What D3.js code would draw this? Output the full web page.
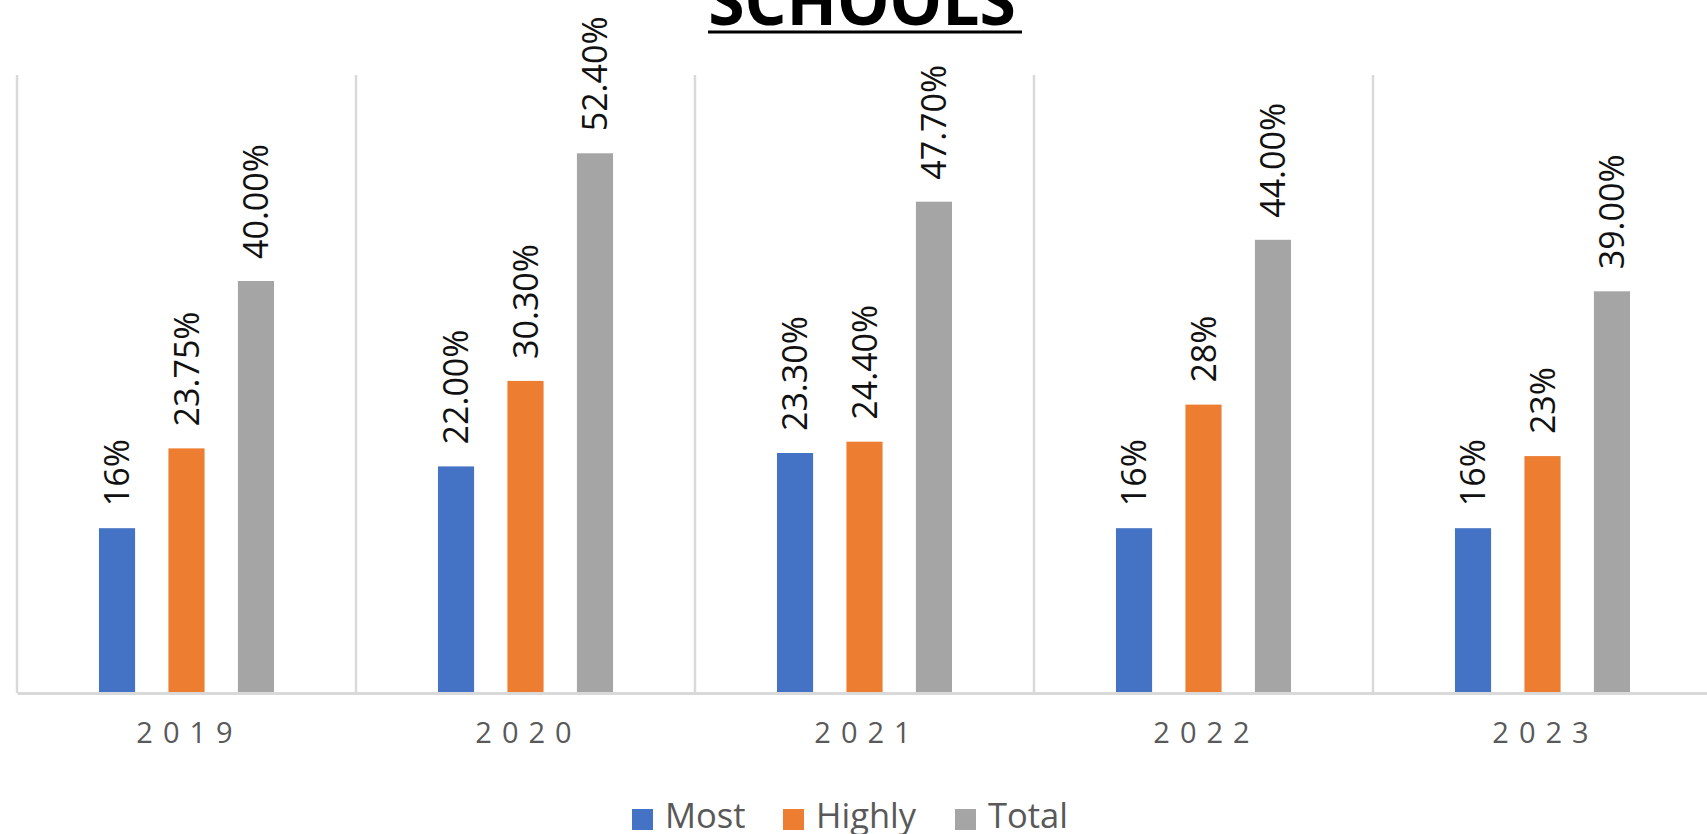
<!DOCTYPE html>
<html>
<head>
<meta charset="utf-8">
<script src="https://cdn.jsdelivr.net/npm/d3@7"></script>
<style>
  html, body { margin: 0; padding: 0; background: #fff; overflow: hidden; }
  svg { display: block; }
</style>
</head>
<body>
<svg id="chart" width="1707" height="834"></svg>
<script>
// ---- data ----
const years = ["2019", "2020", "2021", "2022", "2023"];
const seriesNames = ["Most", "Highly", "Total"];
const most   = [0.16, 0.22, 0.233, 0.16, 0.16];
const highly = [0.2375, 0.303, 0.244, 0.28, 0.23];
const total  = [0.40, 0.524, 0.477, 0.44, 0.39];
const mostLabels   = ["16%", "22.00%", "23.30%", "16%", "16%"];
const highlyLabels = ["23.75%", "30.30%", "24.40%", "28%", "23%"];
const totalLabels  = ["40.00%", "52.40%", "47.70%", "44.00%", "39.00%"];
const colors = ["#4472C4", "#ED7D31", "#A5A5A5"];
const titleText = "SCHOOLS";

const seriesValues = [most, highly, total];
const seriesLabels = [mostLabels, highlyLabels, totalLabels];

const svg = d3.select("#chart");
const W = 1707, H = 834;
const plot = { left: 17, top: 75, bottom: 693, catW: 339 };
const plotRight = plot.left + plot.catW * years.length;

const x0 = d3.scaleBand().domain(years).range([plot.left, plotRight]).padding(0);
const x1 = d3.scaleBand().domain(seriesNames).range([0, x0.bandwidth()])
  .paddingInner(0.48).paddingOuter(1.18);
const y = d3.scaleLinear().domain([0, 0.6]).range([plot.bottom, plot.top]);
const color = d3.scaleOrdinal().domain(seriesNames).range(colors);

svg.append("rect").attr("width", W).attr("height", H).attr("fill", "#fff");

// vertical gridlines at category boundaries
const bounds = years.map(d => x0(d)).concat([plotRight]);
svg.append("g").selectAll("line").data(bounds).join("line")
  .attr("x1", d => d).attr("x2", d => d)
  .attr("y1", plot.top).attr("y2", plot.bottom)
  .attr("stroke", "#d9d9d9").attr("stroke-width", 2.5);

// bars
const rows = years.map((yr, i) => seriesNames.map((s, j) => ({
  year: yr, series: s, value: seriesValues[j][i], label: seriesLabels[j][i]
})));
const groups = svg.append("g").selectAll("g").data(rows).join("g")
  .attr("transform", (d, i) => `translate(${x0(years[i])},0)`);

groups.selectAll("rect").data(d => d).join("rect")
  .attr("x", d => x1(d.series))
  .attr("width", x1.bandwidth())
  .attr("y", d => y(d.value))
  .attr("height", d => y(0) - y(d.value))
  .attr("fill", d => color(d.series));

groups.selectAll("text").data(d => d).join("text")
  .attr("transform", d => `translate(${x1(d.series) + x1.bandwidth() / 2},${y(d.value) - 22}) rotate(-90)`)
  .attr("dy", "0.36em")
  .attr("text-anchor", "start")
  .attr("font-family", "'Open Sans', 'Liberation Sans', sans-serif")
  .attr("font-size", 34)
  .attr("fill", "#111")
  .text(d => d.label);

// x axis
const xAxis = d3.axisBottom(x0).tickSize(0).tickPadding(0);
const gx = svg.append("g").attr("transform", `translate(0,${plot.bottom})`).call(xAxis);
gx.select(".domain").attr("stroke", "#d9d9d9").attr("stroke-width", 3);
gx.selectAll(".tick text")
  .attr("y", 50)
  .attr("dy", 0)
  .attr("dx", 3)
  .attr("font-family", "'Open Sans', 'Liberation Sans', sans-serif")
  .attr("font-size", 29)
  .attr("letter-spacing", "10px")
  .attr("fill", "#595959");

// title
svg.append("text")
  .attr("x", 862).attr("y", 25)
  .attr("text-anchor", "middle")
  .attr("font-family", "'Open Sans', 'Liberation Sans', sans-serif")
  .attr("font-weight", "bold")
  .attr("font-size", 66)
  .attr("fill", "#000")
  .text(titleText);
svg.append("line")
  .attr("x1", 708).attr("x2", 1022).attr("y1", 32).attr("y2", 32)
  .attr("stroke", "#000").attr("stroke-width", 3);

// legend
const legendX = [632, 783, 955];
const lg = svg.append("g").selectAll("g").data(seriesNames).join("g")
  .attr("transform", (d, i) => `translate(${legendX[i]},0)`);
lg.append("rect").attr("x", 0).attr("y", 809).attr("width", 21).attr("height", 21)
  .attr("fill", d => color(d));
lg.append("text").attr("x", 33).attr("y", 828)
  .attr("font-family", "'Open Sans', 'Liberation Sans', sans-serif")
  .attr("font-size", 34.5)
  .attr("fill", "#595959")
  .text(d => d);
</script>
</body>
</html>
